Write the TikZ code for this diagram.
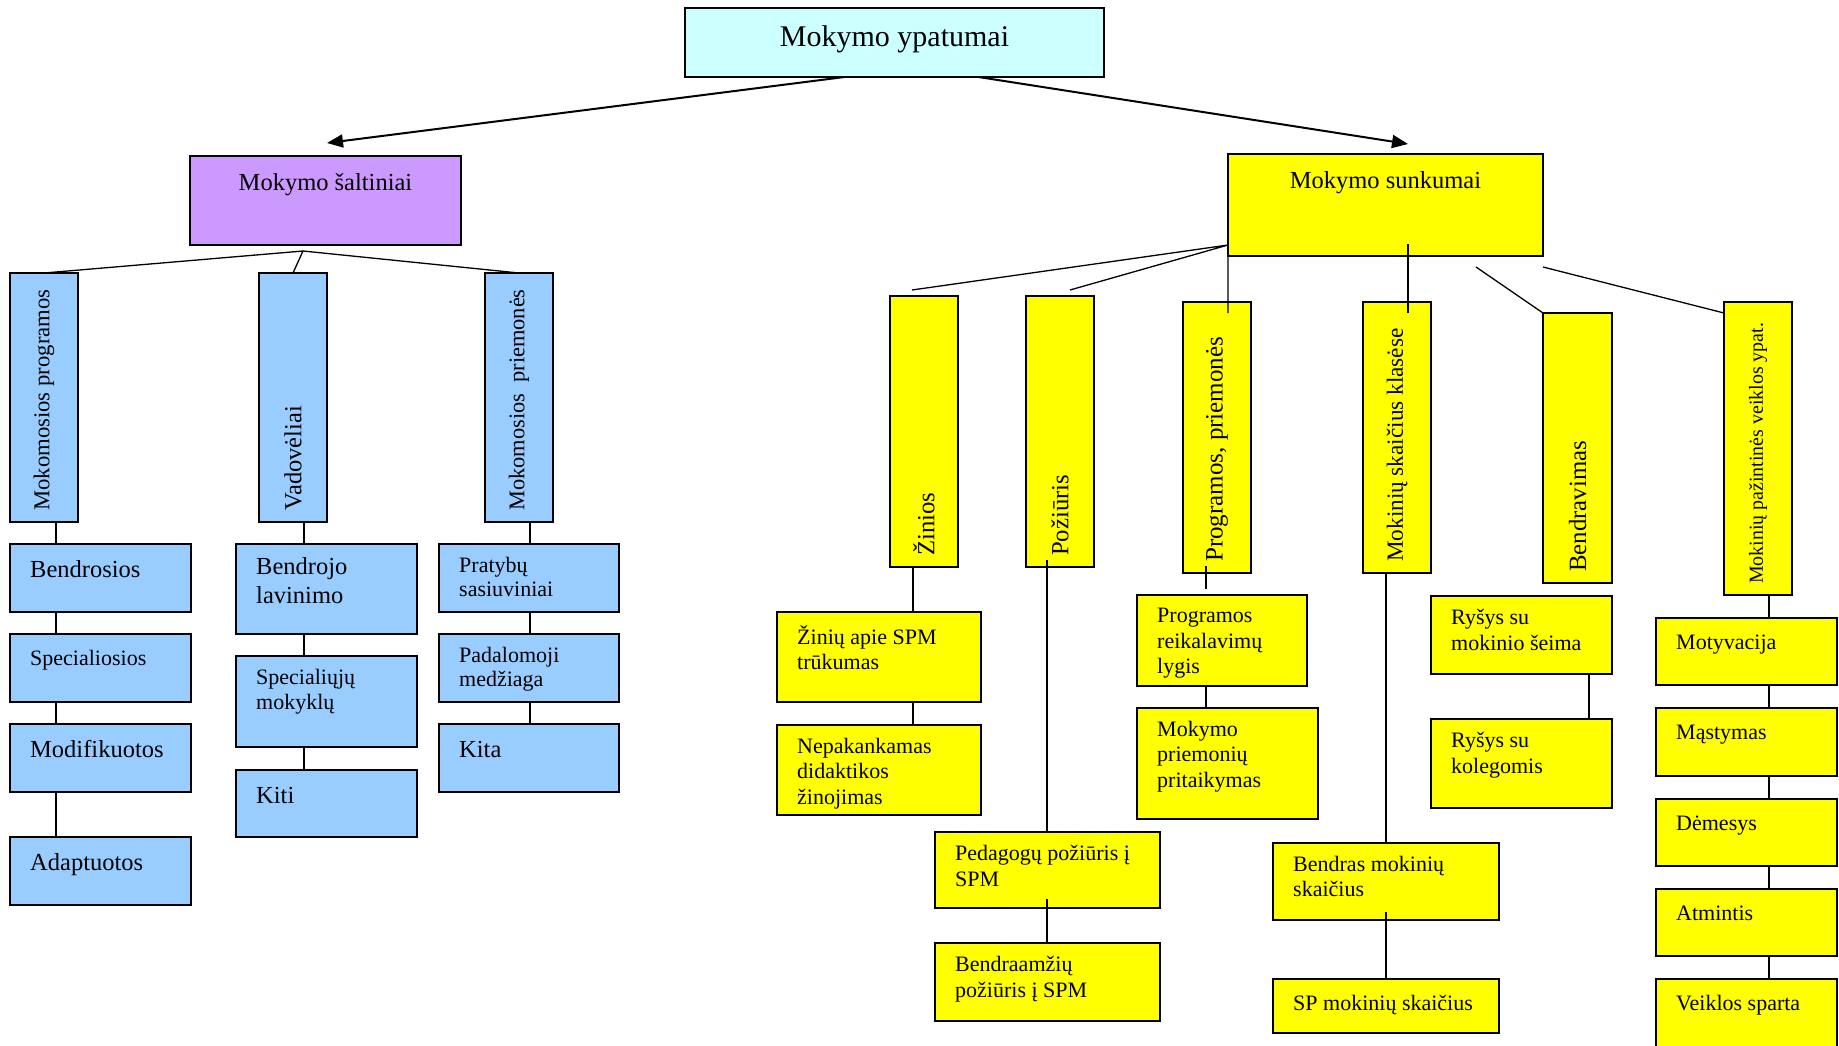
\documentclass[tikz,border=0pt]{standalone}
\usepackage{fontspec}
\setmainfont{Liberation Serif}
\usetikzlibrary{arrows.meta,calc}
\newlength{\du}
\setlength{\du}{1pt}
\definecolor{cyanfill}{HTML}{CCFFFF}
\definecolor{lilacfill}{HTML}{CC99FF}
\definecolor{bluefill}{HTML}{99CCFF}
\definecolor{yellowfill}{HTML}{FFFF00}
\tikzset{
  cell/.style={draw=black, line width=1.6\du, anchor=north west, inner sep=0pt, outer sep=0pt},
  bluecell/.style={cell, fill=bluefill},
  yellowcell/.style={cell, fill=yellowfill},
  link/.style={draw=black, line width=1.3\du},
  arrowline/.style={draw=black, line width=2\du, -{Triangle[length=16pt,width=13pt]}},
  celltext/.style={anchor=north west, inner sep=0pt, align=left, font=\fontsize{22}{25.5}\selectfont, execute at begin node=\strut},
  bigtext/.style={celltext, font=\fontsize{24.5}{29.5}\selectfont},
  sidetext/.style={rotate=90, anchor=west, inner sep=0pt},
  headtext/.style={anchor=base, inner sep=0pt}
}
\begin{document}
\begin{tikzpicture}
\pgftransformyscale{-1.000000}
\fill[white] (0,0) rectangle (1839\du,1045\du);
\useasboundingbox (0,0) rectangle (1839\du,1045\du);
% top
\node[cell, fill=cyanfill, minimum width=419\du, minimum height=69\du] (ypat) at (685\du,8\du) {};
\node[headtext, font=\fontsize{30}{34}\selectfont] (ypatT) at ($(ypat.north)+(0,38\du)$) {Mokymo ypatumai};
\node[cell, fill=lilacfill, minimum width=271\du, minimum height=89\du] (salt) at (190\du,156\du) {};
\node[headtext, font=\fontsize{24.5}{29}\selectfont] (saltT) at ($(salt.north)+(0,34\du)$) {Mokymo šaltiniai};
\node[yellowcell, minimum width=315\du, minimum height=102\du] (sunk) at (1228\du,154\du) {};
\node[headtext, font=\fontsize{24.5}{29}\selectfont] (sunkT) at ($(sunk.north)+(0,34\du)$) {Mokymo sunkumai};
% Mokymo saltiniai
\node[bluecell, minimum width=68\du, minimum height=249\du] (mprog) at (10\du,273\du) {};
\node[bluecell, minimum width=68\du, minimum height=249\du] (vadov) at (259\du,273\du) {};
\node[bluecell, minimum width=68\du, minimum height=249\du] (mpriem) at (485\du,273\du) {};
\node[sidetext, font=\fontsize{22.7}{26}\selectfont] (mprogT) at ($(mprog.south)+(0,-11\du)$) {Mokomosios programos};
\node[sidetext, font=\fontsize{24.5}{28}\selectfont] (vadovT) at ($(vadov.south)+(0,-11\du)$) {Vadovėliai};
\node[sidetext, font=\fontsize{22.4}{26}\selectfont] (mpriemT) at ($(mpriem.south)+(0,-11\du)$) {Mokomosios~ priemonės};
\node[bluecell, minimum width=181\du, minimum height=68\du] (bendr) at (10\du,544\du) {};
\node[bluecell, minimum width=181\du, minimum height=68\du] (specs) at (10\du,634\du) {};
\node[bluecell, minimum width=181\du, minimum height=68\du] (modif) at (10\du,724\du) {};
\node[bluecell, minimum width=181\du, minimum height=68\du] (adapt) at (10\du,837\du) {};
\node[bluecell, minimum width=181\du, minimum height=90\du] (bendl) at (236\du,544\du) {};
\node[bluecell, minimum width=181\du, minimum height=91\du] (specm) at (236\du,656\du) {};
\node[bluecell, minimum width=181\du, minimum height=67\du] (kiti) at (236\du,770\du) {};
\node[bluecell, minimum width=180\du, minimum height=68\du] (praty) at (439\du,544\du) {};
\node[bluecell, minimum width=180\du, minimum height=68\du] (padal) at (439\du,634\du) {};
\node[bluecell, minimum width=180\du, minimum height=68\du] (kita) at (439\du,724\du) {};
\node[bigtext] (bendrT) at ($(bendr.north west)+(20\du,13\du)$) {Bendrosios};
\node[celltext] (specsT) at ($(specs.north west)+(20\du,13\du)$) {Specialiosios};
\node[bigtext] (modifT) at ($(modif.north west)+(20\du,13\du)$) {Modifikuotos};
\node[bigtext] (adaptT) at ($(adapt.north west)+(20\du,13\du)$) {Adaptuotos};
\node[bigtext] (bendlT) at ($(bendl.north west)+(20\du,13\du)$) {Bendrojo\\lavinimo};
\node[celltext] (specmT) at ($(specm.north west)+(20\du,13\du)$) {Specialiųjų\\mokyklų};
\node[bigtext] (kitiT) at ($(kiti.north west)+(20\du,13\du)$) {Kiti};
\node[celltext, font=\fontsize{22}{24.5}\selectfont] (pratyT) at ($(praty.north west)+(20\du,13\du)$) {Pratybų\\sasiuviniai};
\begin{scope}
\clip (padal.north west) rectangle ($(padal.south east)+(0,-7\du)$);
\node[celltext, font=\fontsize{22}{24.5}\selectfont] (padalT) at ($(padal.north west)+(20\du,13\du)$) {Padalomoji\\medžiaga};
\end{scope}
\node[bigtext] (kitaT) at ($(kita.north west)+(20\du,13\du)$) {Kita};
% Mokymo sunkumai
\node[yellowcell, minimum width=68\du, minimum height=271\du] (zin) at (890\du,296\du) {};
\node[yellowcell, minimum width=68\du, minimum height=271\du] (poz) at (1026\du,296\du) {};
\node[yellowcell, minimum width=68\du, minimum height=271\du] (progr) at (1183\du,302\du) {};
\node[yellowcell, minimum width=68\du, minimum height=271\du] (mokk) at (1363\du,302\du) {};
\node[yellowcell, minimum width=69\du, minimum height=270\du] (bendrv) at (1543\du,313\du) {};
\node[yellowcell, minimum width=68\du, minimum height=293\du] (pazint) at (1724\du,302\du) {};
\node[sidetext, font=\fontsize{24.7}{28}\selectfont] (zinT) at ($(zin.south)+(0,-11\du)$) {Žinios};
\node[sidetext, font=\fontsize{24.7}{28}\selectfont] (pozT) at ($(poz.south)+(0,-11\du)$) {Požiūris};
\node[sidetext, font=\fontsize{25}{28}\selectfont] (progrT) at ($(progr.south)+(0,-11\du)$) {Programos, priemonės};
\node[sidetext, font=\fontsize{23.2}{27}\selectfont] (mokkT) at ($(mokk.south)+(0,-11\du)$) {Mokinių skaičius klasėse};
\node[sidetext, font=\fontsize{24.8}{28}\selectfont] (bendrvT) at ($(bendrv.south)+(0,-11\du)$) {Bendravimas};
\node[sidetext, font=\fontsize{19.9}{23}\selectfont] (pazintT) at ($(pazint.south)+(0,-11\du)$) {Mokinių pažintinės veiklos ypat.};
\node[yellowcell, minimum width=204\du, minimum height=90\du] (zinapie) at (777\du,612\du) {};
\node[yellowcell, minimum width=204\du, minimum height=90\du] (nepak) at (777\du,725\du) {};
\node[yellowcell, minimum width=225\du, minimum height=76\du] (pedag) at (935\du,832\du) {};
\node[yellowcell, minimum width=225\du, minimum height=78\du] (bamz) at (935\du,943\du) {};
\node[yellowcell, minimum width=170\du, minimum height=91\du] (progreik) at (1137\du,595\du) {};
\node[yellowcell, minimum width=181\du, minimum height=111\du] (mpritaik) at (1137\du,708\du) {};
\node[yellowcell, minimum width=226\du, minimum height=77\du] (bendras) at (1273\du,843\du) {};
\node[yellowcell, minimum width=226\du, minimum height=54\du] (spmok) at (1273\du,979\du) {};
\node[yellowcell, minimum width=181\du, minimum height=78\du] (rseima) at (1431\du,596\du) {};
\node[yellowcell, minimum width=181\du, minimum height=89\du] (rkoleg) at (1431\du,719\du) {};
\node[yellowcell, minimum width=181\du, minimum height=67\du] (motyv) at (1656\du,618\du) {};
\node[yellowcell, minimum width=181\du, minimum height=68\du] (mast) at (1656\du,708\du) {};
\node[yellowcell, minimum width=181\du, minimum height=67\du] (demes) at (1656\du,799\du) {};
\node[yellowcell, minimum width=181\du, minimum height=67\du] (atmin) at (1656\du,889\du) {};
\node[yellowcell, minimum width=181\du, minimum height=75\du] (veikl) at (1656\du,979\du) {};
\node[celltext] (zinapieT) at ($(zinapie.north west)+(20\du,13\du)$) {Žinių apie SPM\\trūkumas};
\begin{scope}
\clip (nepak.north west) rectangle ($(nepak.south east)+(0,-7\du)$);
\node[celltext] (nepakT) at ($(nepak.north west)+(20\du,13\du)$) {Nepakankamas\\didaktikos\\žinojimas};
\end{scope}
\node[celltext] (pedagT) at ($(pedag.north west)+(20\du,13\du)$) {Pedagogų požiūris į\\SPM};
\node[celltext] (bamzT) at ($(bamz.north west)+(20\du,13\du)$) {Bendraamžių\\požiūris į SPM};
\begin{scope}
\clip (progreik.north west) rectangle ($(progreik.south east)+(0,-7\du)$);
\node[celltext] (progreikT) at ($(progreik.north west)+(20\du,13\du)$) {Programos\\reikalavimų\\lygis};
\end{scope}
\node[celltext] (mpritaikT) at ($(mpritaik.north west)+(20\du,13\du)$) {Mokymo\\priemonių\\pritaikymas};
\node[celltext] (bendrasT) at ($(bendras.north west)+(20\du,13\du)$) {Bendras mokinių\\skaičius};
\node[celltext] (spmokT) at ($(spmok.north west)+(20\du,13\du)$) {SP mokinių skaičius};
\node[celltext] (rseimaT) at ($(rseima.north west)+(20\du,13\du)$) {Ryšys su\\mokinio šeima};
\node[celltext] (rkolegT) at ($(rkoleg.north west)+(20\du,13\du)$) {Ryšys su\\kolegomis};
\node[celltext] (motyvT) at ($(motyv.north west)+(20\du,13\du)$) {Motyvacija};
\node[celltext] (mastT) at ($(mast.north west)+(20\du,13\du)$) {Mąstymas};
\node[celltext] (demesT) at ($(demes.north west)+(20\du,13\du)$) {Dėmesys};
\node[celltext] (atminT) at ($(atmin.north west)+(20\du,13\du)$) {Atmintis};
\node[celltext] (veiklT) at ($(veikl.north west)+(20\du,13\du)$) {Veiklos sparta};
% connectors, left
\coordinate (saltHub) at (303\du,251\du);
\coordinate (colA) at (56\du,0);
\coordinate (colB) at (304\du,0);
\coordinate (colC) at (530\du,0);
\draw[link] (mprog.north) -- (saltHub) -- (mpriem.north) (saltHub) -- (vadov.north);
\draw[link] (mprog.south -| colA) -- (bendr.north -| colA) (bendr.south -| colA) -- (specs.north -| colA)
  (specs.south -| colA) -- (modif.north -| colA) (modif.south -| colA) -- (adapt.north -| colA);
\draw[link] (vadov.south -| colB) -- (bendl.north -| colB) (bendl.south -| colB) -- (specm.north -| colB)
  (specm.south -| colB) -- (kiti.north -| colB);
\draw[link] (mpriem.south -| colC) -- (praty.north -| colC) (praty.south -| colC) -- (padal.north -| colC)
  (padal.south -| colC) -- (kita.north -| colC);
% connectors, right
\coordinate (sunkHub) at (1228\du,245\du);
\coordinate (zinEnd) at (912\du,290\du);
\coordinate (pozEnd) at (1070\du,290\du);
\coordinate (progrIn) at (1228\du,313\du);
\coordinate (mokTop) at (1408\du,244\du);
\coordinate (mokIn) at (1408\du,313\du);
\coordinate (bendrvStart) at (1476\du,267\du);
\coordinate (pazStart) at (1543\du,267\du);
\coordinate (pazIn) at (1724\du,313\du);
\draw[link] (sunkHub) -- (zinEnd) (sunkHub) -- (pozEnd) (sunkHub) -- (progrIn);
\draw[link] (mokTop) -- (mokIn);
\draw[link] (bendrvStart) -- (bendrv.north west);
\draw[link] (pazStart) -- (pazIn);
\coordinate (colZ) at (913\du,0);
\draw[link] (zin.south -| colZ) -- (zinapie.north -| colZ) (zinapie.south -| colZ) -- (nepak.north -| colZ);
\coordinate (pozLow) at (1047\du,560\du);
\coordinate (pedagLow) at (1047\du,899\du);
\draw[link] (pozLow) -- (pedag.north -| pozLow) (pedagLow) -- (bamz.north -| pedagLow);
\coordinate (progrLow) at (1206\du,566\du);
\coordinate (progreikUp) at (1206\du,589\du);
\draw[link] (progrLow) -- (progreikUp) (progreik.south -| progreikUp) -- (mpritaik.north -| progreikUp);
\coordinate (colM) at (1386\du,0);
\coordinate (bendrasLow) at (1386\du,912\du);
\draw[link] (mokk.south -| colM) -- (bendras.north -| colM) (bendrasLow) -- (spmok.north -| bendrasLow);
\coordinate (colR) at (1589\du,0);
\draw[link] (rseima.south -| colR) -- (rkoleg.north -| colR);
\coordinate (colP) at (1769\du,0);
\draw[link] (pazint.south -| colP) -- (motyv.north -| colP) (motyv.south -| colP) -- (mast.north -| colP)
  (mast.south -| colP) -- (demes.north -| colP) (demes.south -| colP) -- (atmin.north -| colP)
  (atmin.south -| colP) -- (veikl.north -| colP);
% arrows
\coordinate (saltTip) at (327\du,143\du);
\coordinate (sunkTip) at (1408\du,144\du);
\draw[arrowline] ([xshift=-50pt]ypat.south) -- (saltTip);
\draw[arrowline] ([xshift=84pt]ypat.south) -- (sunkTip);
\end{tikzpicture}
\end{document}
